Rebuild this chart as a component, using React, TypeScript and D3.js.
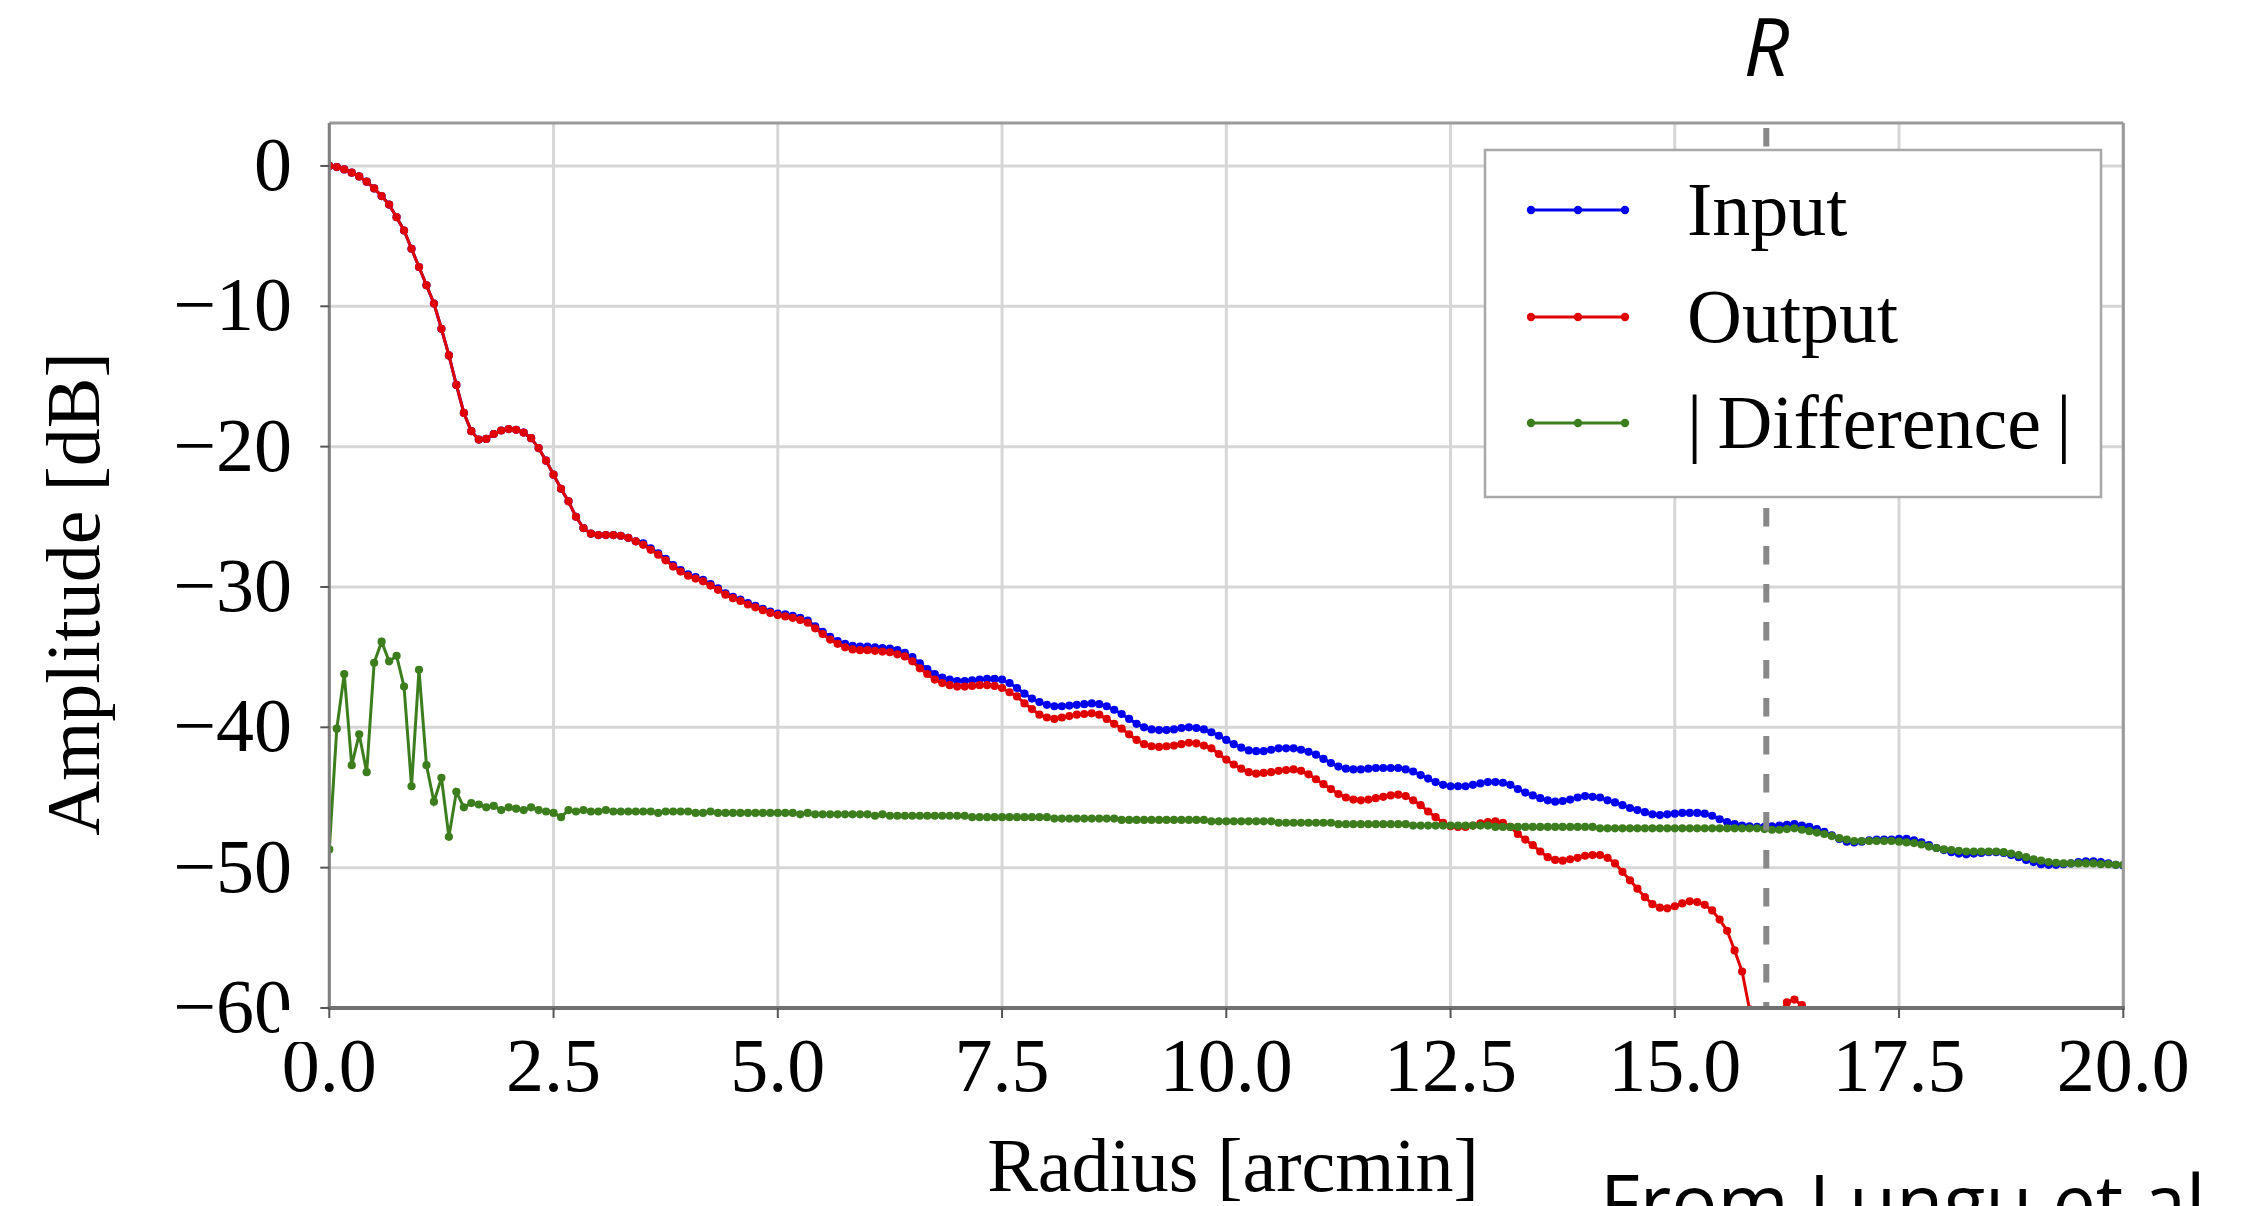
import React from "react";
import * as d3 from "d3";

// Radius sampling step of the profiles (arcmin)
const RADIUS_STEP = 1 / 12;

// Input beam profile [dB]
const INPUT_DB = [
  0.0, -0.08, -0.25, -0.48, -0.75, -1.12, -1.6, -2.15, -2.75, -3.65, -4.6, -5.9,
  -7.2, -8.5, -9.8, -11.6, -13.5, -15.6, -17.6, -18.9, -19.5, -19.45, -19.1, -18.85,
  -18.75, -18.8, -19.0, -19.4, -20.1, -21.0, -22.0, -23.0, -23.9, -25.0, -25.8, -26.2,
  -26.3, -26.3, -26.3, -26.35, -26.5, -26.75, -26.9, -27.25, -27.6, -28.0, -28.45, -28.8,
  -29.1, -29.3, -29.5, -29.8, -30.1, -30.45, -30.7, -30.9, -31.15, -31.35, -31.55, -31.75,
  -31.9, -31.95, -32.05, -32.2, -32.4, -32.8, -33.2, -33.55, -33.85, -34.05, -34.2, -34.25,
  -34.25, -34.3, -34.35, -34.4, -34.5, -34.7, -35.0, -35.45, -35.85, -36.2, -36.45, -36.6,
  -36.7, -36.7, -36.65, -36.6, -36.55, -36.55, -36.6, -36.85, -37.2, -37.6, -37.95, -38.2,
  -38.4, -38.5, -38.5, -38.45, -38.4, -38.35, -38.3, -38.35, -38.5, -38.75, -39.05, -39.4,
  -39.75, -40.0, -40.15, -40.2, -40.2, -40.15, -40.05, -40.0, -40.05, -40.15, -40.35, -40.6,
  -40.9, -41.2, -41.45, -41.65, -41.7, -41.7, -41.6, -41.5, -41.5, -41.5, -41.6, -41.75,
  -41.95, -42.25, -42.55, -42.8, -42.95, -43.0, -43.0, -42.95, -42.9, -42.9, -42.9, -42.9,
  -43.0, -43.15, -43.4, -43.65, -43.9, -44.1, -44.2, -44.2, -44.2, -44.1, -44.0, -43.9,
  -43.9, -43.95, -44.1, -44.4, -44.65, -44.85, -45.05, -45.2, -45.3, -45.25, -45.15, -45.0,
  -44.9, -44.95, -45.0, -45.2, -45.35, -45.55, -45.75, -45.9, -46.05, -46.2, -46.25, -46.2,
  -46.15, -46.1, -46.1, -46.1, -46.15, -46.3, -46.55, -46.75, -46.9, -47.0, -47.05, -47.1,
  -47.1, -47.05, -47.0, -46.95, -46.9, -47.0, -47.1, -47.25, -47.45, -47.7, -47.95, -48.15,
  -48.2, -48.15, -48.05, -48.0, -48.0, -48.0, -47.95, -47.95, -48.05, -48.2, -48.4, -48.6,
  -48.75, -48.9, -49.0, -49.05, -49.0, -48.95, -48.9, -48.9, -48.95, -49.1, -49.25, -49.45,
  -49.6, -49.75, -49.8, -49.8, -49.75, -49.7, -49.6, -49.55, -49.55, -49.6, -49.7, -49.8, -49.85,
];

// Output beam profile [dB] (drops below the plotted range after ~16.5 arcmin)
const OUTPUT_DB = [
  0.0, -0.08, -0.25, -0.48, -0.75, -1.12, -1.6, -2.15, -2.75, -3.65, -4.6, -5.9,
  -7.2, -8.5, -9.8, -11.6, -13.5, -15.6, -17.6, -18.9, -19.5, -19.45, -19.1, -18.85,
  -18.75, -18.8, -19.0, -19.4, -20.1, -21.0, -22.0, -23.0, -23.9, -25.0, -25.8, -26.2,
  -26.3, -26.3, -26.3, -26.35, -26.5, -26.75, -27.0, -27.35, -27.7, -28.1, -28.55, -28.9,
  -29.2, -29.4, -29.6, -29.9, -30.2, -30.55, -30.8, -31.0, -31.25, -31.45, -31.65, -31.85,
  -32.0, -32.1, -32.2, -32.35, -32.55, -32.95, -33.35, -33.75, -34.05, -34.3, -34.45, -34.5,
  -34.5, -34.55, -34.6, -34.65, -34.8, -34.95, -35.3, -35.8, -36.2, -36.6, -36.85, -37.0,
  -37.1, -37.1, -37.05, -37.0, -37.0, -37.05, -37.2, -37.5, -37.8, -38.3, -38.7, -39.1,
  -39.3, -39.4, -39.3, -39.2, -39.1, -39.05, -39.0, -39.1, -39.4, -39.75, -40.1, -40.5,
  -40.9, -41.2, -41.35, -41.4, -41.35, -41.3, -41.2, -41.1, -41.15, -41.3, -41.5, -41.9,
  -42.3, -42.65, -42.95, -43.2, -43.3, -43.25, -43.2, -43.1, -43.05, -43.0, -43.1, -43.35,
  -43.7, -44.05, -44.4, -44.75, -45.0, -45.15, -45.2, -45.15, -45.05, -44.95, -44.85, -44.8,
  -44.9, -45.2, -45.55, -46.0, -46.4, -46.8, -47.05, -47.1, -47.1, -47.0, -46.85, -46.75,
  -46.7, -46.8, -47.1, -47.6, -48.0, -48.4, -48.85, -49.25, -49.45, -49.5, -49.4, -49.3,
  -49.15, -49.1, -49.1, -49.3, -49.7, -50.3, -50.9, -51.5, -52.1, -52.6, -52.85, -52.9,
  -52.75, -52.55, -52.4, -52.45, -52.65, -53.05, -53.7, -54.5, -55.9, -57.4, -60.1, -63.0,
  -65.0, -63.0, -60.4, -59.6, -59.4, -59.8, -61.0, -63.5,
];

// |Difference| [dB]
const DIFF_DB = [
  -48.7, -40.1, -36.2, -42.7, -40.5, -43.2, -35.4, -33.9, -35.3, -34.9, -37.1, -44.2,
  -35.9, -42.7, -45.3, -43.6, -47.8, -44.6, -45.7, -45.4, -45.5, -45.7, -45.6, -45.9,
  -45.7, -45.8, -45.9, -45.7, -45.9, -46.0, -46.1, -46.4, -45.9, -46.0, -45.9, -46.0,
  -46.0, -45.9, -46.0, -46.0, -46.0, -46.0, -46.0, -46.0, -46.1, -46.0, -46.0, -46.0,
  -46.0, -46.1, -46.1, -46.0, -46.1, -46.1, -46.1, -46.1, -46.1, -46.1, -46.1, -46.1,
  -46.1, -46.1, -46.1, -46.2, -46.1, -46.2, -46.2, -46.2, -46.2, -46.2, -46.2, -46.2,
  -46.2, -46.3, -46.2, -46.3, -46.3, -46.3, -46.3, -46.3, -46.3, -46.3, -46.3, -46.3,
  -46.3, -46.3, -46.4, -46.4, -46.4, -46.4, -46.4, -46.4, -46.4, -46.4, -46.4, -46.4,
  -46.4, -46.5, -46.5, -46.5, -46.5, -46.5, -46.5, -46.5, -46.5, -46.5, -46.6, -46.6,
  -46.6, -46.6, -46.6, -46.6, -46.6, -46.6, -46.6, -46.6, -46.6, -46.6, -46.7, -46.7,
  -46.7, -46.7, -46.7, -46.7, -46.7, -46.7, -46.7, -46.8, -46.8, -46.8, -46.8, -46.8,
  -46.8, -46.8, -46.8, -46.9, -46.9, -46.9, -46.9, -46.9, -46.9, -46.9, -46.9, -46.9,
  -46.9, -47.0, -47.0, -47.0, -47.0, -47.0, -47.0, -47.0, -47.0, -47.0, -47.0, -47.0,
  -47.1, -47.1, -47.1, -47.1, -47.1, -47.1, -47.1, -47.1, -47.1, -47.1, -47.1, -47.1,
  -47.1, -47.1, -47.2, -47.2, -47.2, -47.2, -47.2, -47.2, -47.2, -47.2, -47.2, -47.2,
  -47.2, -47.2, -47.2, -47.2, -47.2, -47.2, -47.2, -47.2, -47.2, -47.2, -47.2, -47.2,
  -47.25, -47.3, -47.3, -47.25, -47.2, -47.3, -47.4, -47.5, -47.6, -47.75, -47.9, -48.0,
  -48.1, -48.1, -48.1, -48.1, -48.1, -48.1, -48.15, -48.2, -48.25, -48.35, -48.5, -48.6,
  -48.7, -48.75, -48.8, -48.85, -48.85, -48.85, -48.85, -48.85, -48.9, -49.0, -49.1, -49.25,
  -49.4, -49.5, -49.6, -49.65, -49.7, -49.7, -49.7, -49.7, -49.7, -49.75, -49.75, -49.8, -49.8,
];

const X_TICKS = [0, 2.5, 5, 7.5, 10, 12.5, 15, 17.5, 20];
const X_TICK_LABELS = ["0.0", "2.5", "5.0", "7.5", "10.0", "12.5", "15.0", "17.5", "20.0"];
const Y_TICKS = [0, -10, -20, -30, -40, -50, -60];
const Y_TICK_LABELS = ["0", "\u221210", "\u221220", "\u221230", "\u221240", "\u221250", "\u221260"];
const R_RADIUS = 16.02;
const SERIES_NAMES = ["Input", "Output", "|\u2009Difference\u2009|"];
const SERIES_COLORS = ["#0000f0", "#e00000", "#3c7d1e"];

const W = 2245;
const H = 1206;
const PLOT = { left: 329.3, right: 2123.3, top: 123, bottom: 1008 };
const Y_TOP_VALUE = 3.06;
const SERIF = "'Liberation Serif', 'Times New Roman', serif";

export default function App() {
  const x = d3.scaleLinear().domain([0, 20]).range([PLOT.left, PLOT.right]);
  const y = d3.scaleLinear().domain([-60, Y_TOP_VALUE]).range([PLOT.bottom, PLOT.top]);
  const series = [INPUT_DB, OUTPUT_DB, DIFF_DB].map((vals, k) => ({
    name: SERIES_NAMES[k],
    color: SERIES_COLORS[k],
    pts: vals.map((v, i) => [i * RADIUS_STEP, v] as [number, number]),
  }));
  const line = d3
    .line<[number, number]>()
    .x((d) => x(d[0]))
    .y((d) => y(d[1]));

  const legendX = 1485;
  const legendY = 150;
  const legendW = 616;
  const legendH = 347;
  const legendRows = [210, 317, 423];

  return (
    <svg
      width={W}
      height={H}
      viewBox={`0 0 ${W} ${H}`}
      style={{ position: "absolute", left: 0, top: 0, background: "#fff" }}
    >
      <defs>
        <clipPath id="plotclip">
          <rect x={PLOT.left} y={PLOT.top} width={PLOT.right - PLOT.left} height={PLOT.bottom - PLOT.top} />
        </clipPath>
      </defs>
      <rect x={0} y={0} width={W} height={H} fill="#fff" />

      {/* grid */}
      <g stroke="#d6d6d6" strokeWidth={3}>
        {X_TICKS.map((t) => (
          <line key={"gx" + t} x1={x(t)} x2={x(t)} y1={PLOT.top} y2={PLOT.bottom} />
        ))}
        {Y_TICKS.map((t) => (
          <line key={"gy" + t} x1={PLOT.left} x2={PLOT.right} y1={y(t)} y2={y(t)} />
        ))}
      </g>

      {/* data */}
      <g clipPath="url(#plotclip)">
        {series.map((s) => (
          <g key={s.name}>
            <path d={line(s.pts) || ""} fill="none" stroke={s.color} strokeWidth={3} />
            {s.pts.map((p, i) => (
              <circle key={i} cx={x(p[0])} cy={y(p[1])} r={4.1} fill={s.color} />
            ))}
          </g>
        ))}
        {/* R marker */}
        <line
          x1={x(R_RADIUS)}
          x2={x(R_RADIUS)}
          y1={PLOT.top + 5}
          y2={PLOT.bottom}
          stroke="#888"
          strokeWidth={6}
          strokeDasharray="18.5 19.5"
        />
      </g>

      {/* frame */}
      <g fill="none">
        <line x1={PLOT.left} x2={PLOT.right} y1={PLOT.top} y2={PLOT.top} stroke="#9a9a9a" strokeWidth={3} />
        <line x1={PLOT.right} x2={PLOT.right} y1={PLOT.top} y2={PLOT.bottom} stroke="#9a9a9a" strokeWidth={3} />
        <line x1={PLOT.left} x2={PLOT.left} y1={PLOT.top} y2={PLOT.bottom} stroke="#808080" strokeWidth={3} />
        <line x1={PLOT.left - 1.5} x2={PLOT.right + 1.5} y1={PLOT.bottom} y2={PLOT.bottom} stroke="#707070" strokeWidth={4} />
      </g>

      {/* ticks */}
      <g stroke="#555" strokeWidth={2}>
        {X_TICKS.map((t) => (
          <line key={"tx" + t} x1={x(t)} x2={x(t)} y1={PLOT.bottom} y2={PLOT.bottom + 10} />
        ))}
        {Y_TICKS.map((t) => (
          <line key={"ty" + t} x1={PLOT.left - 9} x2={PLOT.left} y1={y(t)} y2={y(t)} />
        ))}
      </g>

      {/* tick labels */}
      <g fontFamily={SERIF} fontSize={76} fill="#000">
        {X_TICKS.map((t, i) => (
          <text key={"lx" + t} x={x(t)} y={1091} textAnchor="middle">
            {X_TICK_LABELS[i]}
          </text>
        ))}
        {Y_TICKS.map((t, i) => (
          <text key={"ly" + t} x={292} y={y(t) + 24} textAnchor="end">
            {Y_TICK_LABELS[i]}
          </text>
        ))}
      </g>
      {/* clipped corner of the −60 label */}
      <rect x={279} y={1010} width={42} height={32} fill="#fff" />

      {/* axis labels */}
      <text x={1233} y={1191} textAnchor="middle" fontFamily={SERIF} fontSize={76} fill="#000">
        Radius [arcmin]
      </text>
      <text
        transform={`translate(99, 594) rotate(-90)`}
        textAnchor="middle"
        fontFamily={SERIF}
        fontSize={76}
        fill="#000"
      >
        Amplitude [dB]
      </text>

      {/* legend */}
      <rect x={legendX} y={legendY} width={legendW} height={legendH} fill="#fff" stroke="#a8a8a8" strokeWidth={2.5} />
      {series.map((s, k) => (
        <g key={"leg" + s.name}>
          <line x1={1531} x2={1625} y1={legendRows[k]} y2={legendRows[k]} stroke={s.color} strokeWidth={3} />
          {[1531, 1578, 1625].map((cx) => (
            <circle key={cx} cx={cx} cy={legendRows[k]} r={4.2} fill={s.color} />
          ))}
          <text x={1687} y={legendRows[k] + 25} fontFamily={SERIF} fontSize={76} fill="#000">
            {s.name}
          </text>
        </g>
      ))}

      {/* R annotation */}
      <text
        x={x(R_RADIUS)}
        y={76}
        textAnchor="middle"
        fontFamily="'Open Sans', 'Noto Sans', sans-serif"
        fontStyle="italic"
        fontSize={80}
        fill="#000"
      >
        R
      </text>

      {/* source note */}
      <text x={1600} y={1230} fontFamily="'Open Sans', 'Noto Sans', sans-serif" fontSize={77} fill="#000">
        From Lungu et al
      </text>
    </svg>
  );
}
